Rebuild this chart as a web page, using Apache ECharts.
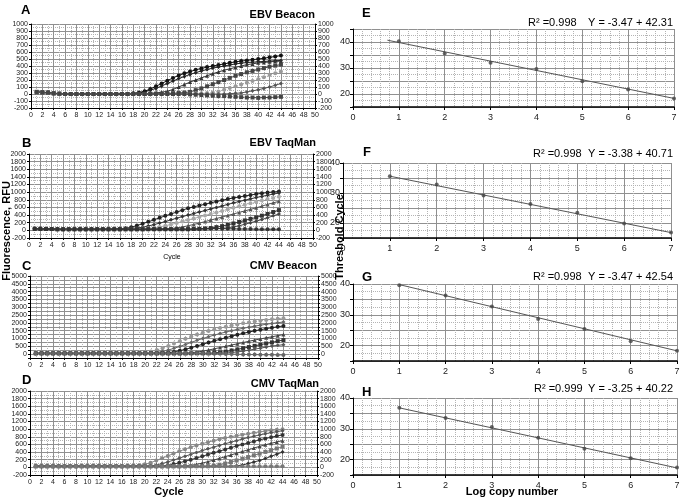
<!DOCTYPE html>
<html><head><meta charset="utf-8">
<script src="https://cdn.jsdelivr.net/npm/echarts@6/dist/echarts.min.js"></script>
<style>html,body{margin:0;padding:0;background:#fff}#c{width:684px;height:500px}</style>
</head><body><div id="c"></div>
<script>
const cycles = [1,2,3,4,5,6,7,8,9,10,11,12,13,14,15,16,17,18,19,20,21,22,23,24,25,26,27,28,29,30,31,32,33,34,35,36,37,38,39,40,41,42,43,44];

// Panel A: EBV Beacon
const A1 = [30,25,20,10,5,0,0,0,0,0,0,0,0,0,0,0,5,10,20,40,70,110,150,190,230,265,295,320,345,365,385,400,415,430,445,460,470,480,490,500,510,525,535,550];
const A2 = [25,20,15,10,5,0,0,0,0,0,0,0,0,0,0,0,5,5,15,30,55,80,115,150,185,220,250,280,305,330,350,370,385,400,415,430,440,450,455,460,465,470,475,480];
const A3 = [20,20,15,10,5,0,0,0,0,0,0,0,0,0,0,0,0,0,5,5,10,15,25,40,65,100,135,170,200,230,260,290,315,340,360,380,400,420,430,445,450,460,465,470];
const A4 = [30,25,20,10,5,0,0,0,0,0,0,0,0,0,0,0,0,0,0,0,5,5,5,10,10,15,20,30,55,80,110,140,170,200,230,260,285,310,330,350,370,390,405,420];
const A5 = [20,20,15,10,5,0,0,0,0,0,0,0,0,0,0,0,0,0,0,0,0,0,0,0,0,5,5,5,10,10,15,20,35,60,85,110,135,160,185,210,240,270,295,320];
const A6 = [25,20,15,10,5,0,0,0,0,0,0,0,0,0,0,0,0,0,0,0,0,0,0,0,0,0,0,0,0,0,0,0,0,0,5,10,15,30,45,60,80,100,125,150];
const A7 = [30,25,20,10,5,0,0,0,0,0,0,0,0,0,0,0,0,0,0,0,0,0,0,0,0,0,0,-5,-10,-15,-20,-25,-30,-30,-35,-40,-45,-50,-50,-55,-50,-50,-45,-40];

// Panel B: EBV TaqMan
const B1 = [40,40,35,35,30,30,30,30,30,30,30,30,30,30,35,40,55,80,125,175,225,275,330,380,430,480,530,580,615,650,685,720,755,790,820,850,875,900,925,950,970,990,1005,1020];
const B2 = [40,40,35,35,30,30,30,30,30,30,30,30,30,30,30,35,40,50,65,80,115,150,190,230,275,320,360,400,440,480,520,560,600,640,680,720,755,790,825,860,890,920,950,980];
const B3 = [40,40,35,35,30,30,30,30,30,30,30,30,30,30,30,30,35,40,45,50,55,60,90,120,155,190,230,270,310,350,390,430,470,510,550,590,630,670,710,750,785,820,850,880];
const B4 = [40,40,35,35,30,30,30,30,30,30,30,30,30,30,30,30,30,30,30,30,35,35,40,45,50,60,90,120,155,190,230,270,310,350,390,430,470,510,550,590,635,680,720,760];
const B5 = [40,40,35,35,30,30,30,30,30,30,30,30,30,30,30,30,30,30,30,30,30,30,30,30,30,30,30,30,35,40,50,60,85,110,145,180,220,260,300,340,385,430,480,530];
const B6 = [40,40,35,35,30,30,30,30,30,30,30,30,30,30,30,30,30,30,30,30,30,30,30,30,30,30,30,30,30,30,35,40,45,50,70,90,120,160,200,240,285,330,380,430];
const B7 = [40,40,35,35,30,30,30,30,30,30,30,30,30,30,30,30,30,30,30,30,30,30,30,30,30,30,30,30,35,40,45,50,50,45,40,40,35,35,35,30,30,30,30,30];

// Panel C: CMV Beacon
const C1 = [50,50,50,50,50,50,50,50,50,50,50,50,50,50,50,50,50,50,50,100,170,260,380,520,680,830,980,1120,1250,1370,1480,1580,1670,1750,1830,1900,1970,2030,2090,2140,2190,2230,2270,2300];
const C2 = [50,50,50,50,50,50,50,50,50,50,50,50,50,50,50,50,50,50,50,50,50,100,170,260,370,490,620,750,880,1000,1110,1220,1320,1410,1500,1580,1650,1720,1790,1850,1910,1960,2010,2050];
const C3 = [50,50,50,50,50,50,50,50,50,50,50,50,50,50,50,50,50,50,50,50,50,50,50,90,140,220,310,410,520,630,740,850,950,1050,1150,1240,1330,1410,1490,1560,1630,1690,1750,1800];
const C4 = [50,50,50,50,50,50,50,50,50,50,50,50,50,50,50,50,50,50,50,50,50,50,50,50,50,50,50,90,130,190,260,340,420,500,580,660,740,820,900,970,1040,1110,1180,1250];
const C5 = [50,50,50,50,50,50,50,50,50,50,50,50,50,50,50,50,50,50,50,50,50,50,50,50,50,50,50,50,50,50,50,80,110,160,230,300,380,450,530,600,680,750,830,900];
const C6 = [50,50,50,50,50,50,50,50,50,50,50,50,50,50,50,50,50,50,50,50,50,50,50,50,50,50,50,50,50,50,50,50,50,70,100,140,190,250,320,380,450,520,560,600];
const C7 = [50,50,50,50,50,50,50,50,50,50,50,50,50,50,50,50,50,50,50,50,50,50,50,50,50,50,50,50,50,50,40,30,20,10,0,-10,-20,-30,-30,-40,-40,-40,-50,-50];

// Panel D: CMV TaqMan
const D1 = [30,30,30,30,30,30,30,30,30,30,30,30,30,30,30,30,30,30,50,80,120,180,240,300,360,420,475,530,575,620,660,700,735,770,800,830,855,880,905,930,950,970,985,1000];
const D2 = [30,30,30,30,30,30,30,30,30,30,30,30,30,30,30,30,30,30,30,30,30,60,100,140,190,240,290,340,390,440,485,530,575,620,660,700,740,780,815,850,880,910,935,960];
const D3 = [30,30,30,30,30,30,30,30,30,30,30,30,30,30,30,30,30,30,30,30,30,30,30,50,85,120,160,200,245,290,335,380,425,470,515,560,600,640,680,720,755,790,820,850];
const D4 = [30,30,30,30,30,30,30,30,30,30,30,30,30,30,30,30,30,30,30,30,30,30,30,30,30,30,30,50,80,110,150,190,235,280,325,370,415,460,505,550,590,630,665,700];
const D5 = [30,30,30,30,30,30,30,30,30,30,30,30,30,30,30,30,30,30,30,30,30,30,30,30,30,30,30,30,30,30,30,40,70,100,140,180,225,270,315,360,405,450,495,540];
const D6 = [30,30,30,30,30,30,30,30,30,30,30,30,30,30,30,30,30,30,30,30,30,30,30,30,30,30,30,30,30,30,30,30,30,30,30,40,60,100,140,180,230,290,345,400];
const D7 = [30,30,30,30,30,30,30,30,30,30,30,30,30,30,30,30,30,30,30,30,30,30,30,30,30,30,30,30,30,30,30,30,30,30,30,30,30,30,30,30,30,30,30,30];

// Standard curves (E-H)
const logCopy = [1,2,3,4,5,6,7];
const E_ct = [40.3,35.6,32.0,29.6,24.9,21.7,18.3];
const F_ct = [35.6,32.8,29.2,26.3,23.4,19.8,16.8];
const G_ct = [39.6,36.3,32.7,28.6,25.4,21.4,18.3];
const H_ct = [36.8,33.5,30.6,27.1,23.5,20.4,17.4];
const E_fitX = [0.75,7], E_fitY = [40.7,18.3];
const F_fitX = [1,7],    F_fitY = [35.6,16.8];
const G_fitX = [1,7],    G_fitY = [39.8,18.3];
const H_fitX = [1,7],    H_fitY = [36.8,17.3];

const FONT = "'Liberation Sans', Arial, sans-serif";
const grids = [
  {left:31, top:24, width:284, height:84},
  {left:29, top:154, width:284, height:84},
  {left:30, top:276, width:288, height:82},
  {left:30, top:391, width:287, height:84},
  {left:353, top:29, width:321, height:78},
  {left:343, top:163, width:328, height:75},
  {left:353, top:284, width:324, height:77},
  {left:353, top:398, width:324, height:77}
];

const lsMajor = {show:true, lineStyle:{color:'#909090', width:1}};
const lsMinor = {show:true, lineStyle:{color:'#b4b4b4', width:1, type:'dotted'}};

function leftX(gi){
  return {type:'value', gridIndex:gi, min:0, max:50, interval:2,
    axisLine:{show:true, onZero:false, lineStyle:{color:'#000'}},
    axisTick:{show:true, length:2, lineStyle:{color:'#000'}},
    axisLabel:{fontSize:7, color:'#222', margin:4, fontFamily:FONT},
    splitLine:lsMajor, minorTick:{show:false, splitNumber:2}, minorSplitLine:lsMinor};
}
function leftY(gi, min, max, interval, pos, fmt){
  return {type:'value', gridIndex:gi, min:min, max:max, interval:interval, position:pos,
    axisLine:{show:true, onZero:false, lineStyle:{color:'#000'}},
    axisTick:{show:true, length:2, lineStyle:{color:'#000'}},
    axisLabel:{fontSize:7, color:'#222', margin:3, fontFamily:FONT, formatter: fmt || (v=>String(v))},
    splitLine: pos==='left' ? lsMajor : {show:false},
    minorTick:{show:false, splitNumber:2},
    minorSplitLine: pos==='left' ? lsMinor : {show:false}};
}
function rightX(gi){
  return {type:'value', gridIndex:gi, min:0, max:7, interval:1,
    axisLine:{show:true, onZero:false, lineStyle:{color:'#000', width:1.5}},
    axisTick:{show:true, length:3, lineStyle:{color:'#000'}},
    axisLabel:{fontSize:9, color:'#222', margin:6, fontFamily:"'Liberation Sans Narrow', "+FONT},
    splitLine:lsMajor, minorTick:{show:false, splitNumber:5}, minorSplitLine:lsMinor};
}
function rightY(gi, max){
  return {type:'value', gridIndex:gi, min:15, max:max, interval:5,
    axisLine:{show:true, onZero:false, lineStyle:{color:'#000'}},
    axisTick:{show:true, length:3, lineStyle:{color:'#000'}},
    axisLabel:{fontSize:9, color:'#222', margin:3, fontFamily:"'Liberation Sans Narrow', "+FONT,
      formatter: v => (v % 10 === 0 ? String(v) : '')},
    splitLine:lsMajor, minorTick:{show:false, splitNumber:2}, minorSplitLine:lsMinor};
}

const xAxes = [leftX(0), leftX(1), leftX(2), leftX(3), rightX(4), rightX(5), rightX(6), rightX(7)];
const fmtC = v => (v >= 0 && v % 500 === 0 ? String(v) : '');
const yAxes = [
  leftY(0,-200,1000,100,'left'),
  leftY(1,-200,2000,200,'left'),
  leftY(2,-250,5000,250,'left',fmtC),
  leftY(3,-200,2000,200,'left'),
  rightY(4,45), rightY(5,40), rightY(6,40), rightY(7,40),
  leftY(0,-200,1000,100,'right'),
  leftY(1,-200,2000,200,'right'),
  leftY(2,-250,5000,250,'right',fmtC),
  leftY(3,-200,2000,200,'right')
];
yAxes[2].minorSplitLine = {show:false};

function curve(vals, gi, color, symbol, dashed){
  return {type:'line', xAxisIndex:gi, yAxisIndex:gi, silent:true, animation:false,
    data: cycles.map((c,i)=>[c, vals[i]]),
    symbol:symbol, symbolSize:4, showSymbol:true,
    lineStyle:{color:color, width:1, type: dashed ? 'dashed' : 'solid'},
    itemStyle:{color:color}, z:3};
}
function pts(xs, ys, gi){
  return {type:'scatter', xAxisIndex:gi, yAxisIndex:gi, silent:true, animation:false,
    data: xs.map((x,i)=>[x, ys[i]]), symbol:'circle', symbolSize:4,
    itemStyle:{color:'#444'}, z:4};
}
function fit(xs, ys, gi){
  return {type:'line', xAxisIndex:gi, yAxisIndex:gi, silent:true, animation:false,
    data: xs.map((x,i)=>[x, ys[i]]), showSymbol:false, symbol:'none',
    lineStyle:{color:'#555', width:1}, z:3};
}

const series = [
  curve(A1,0,'#111','circle'), curve(A2,0,'#222','diamond'), curve(A3,0,'#333','triangle'),
  curve(A4,0,'#444','rect'), curve(A5,0,'#9a9a9a','circle',true), curve(A6,0,'#555','diamond'),
  curve(A7,0,'#444','rect',true),
  curve(B1,1,'#222','circle'), curve(B2,1,'#333','diamond'), curve(B3,1,'#a8a8a8','circle',true),
  curve(B4,1,'#555','triangle'), curve(B5,1,'#333','rect'), curve(B6,1,'#444','diamond'),
  curve(B7,1,'#333','circle'),
  curve(C1,2,'#999','circle',true), curve(C2,2,'#666','diamond'), curve(C3,2,'#222','circle'),
  curve(C4,2,'#444','triangle'), curve(C5,2,'#333','rect'), curve(C6,2,'#555','diamond'),
  curve(C7,2,'#666','circle'),
  curve(D1,3,'#888','circle'), curve(D2,3,'#555','diamond'), curve(D3,3,'#333','circle'),
  curve(D4,3,'#444','triangle'), curve(D5,3,'#777','rect'), curve(D6,3,'#333','diamond'),
  curve(D7,3,'#777','circle'),
  fit(E_fitX,E_fitY,4), pts(logCopy,E_ct,4),
  fit(F_fitX,F_fitY,5), pts(logCopy,F_ct,5),
  fit(G_fitX,G_fitY,6), pts(logCopy,G_ct,6),
  fit(H_fitX,H_fitY,7), pts(logCopy,H_ct,7)
];

function txt(text, x, y, font, align, rot){
  return {type:'text', x:x, y:y, rotation: rot || 0, silent:true, z:10,
    style:{text:text, font:font, fill:'#000', textAlign: align || 'left', textVerticalAlign:'middle'}};
}
const B13 = 'bold 13px ' + FONT, B11 = 'bold 11px ' + FONT, N11 = '11px ' + FONT;
const graphics = [
  txt('A',21,10,B13), txt('EBV Beacon',315,15,B11,'right'),
  txt('B',22,143,B13), txt('EBV TaqMan',316,143,B11,'right'),
  txt('C',22,266,B13), txt('CMV Beacon',317,266,B11,'right'),
  txt('D',22,380,B13), txt('CMV TaqMan',319,384,B11,'right'),
  txt('Cycle',172,257,'7px '+FONT,'center'),
  txt('Cycle',169,492,B11,'center'),
  txt('Fluorescence, RFU',7,231,B11,'center',Math.PI/2),
  txt('E',362,13,B13), txt('R² =0.998',528,23,N11), txt('Y = -3.47 + 42.31',588,23,N11),
  txt('F',363,152,B13), txt('R² =0.998',533,154,N11), txt('Y = -3.38 + 40.71',588,154,N11),
  txt('G',362,277,B13), txt('R² =0.998',533,277,N11), txt('Y = -3.47 + 42.54',588,277,N11),
  txt('H',362,392,B13), txt('R² =0.999',534,389,N11), txt('Y = -3.25 + 40.22',588,389,N11),
  txt('Log copy number',512,492,B11,'center'),
  txt('Threshold Cycle',340,237,B11,'center',Math.PI/2)
];

const chart = echarts.init(document.getElementById('c'), null, {renderer:'canvas'});
chart.setOption({
  animation:false,
  backgroundColor:'#fff',
  grid: grids,
  xAxis: xAxes,
  yAxis: yAxes,
  series: series,
  graphic: graphics
});
</script>
</body></html>
